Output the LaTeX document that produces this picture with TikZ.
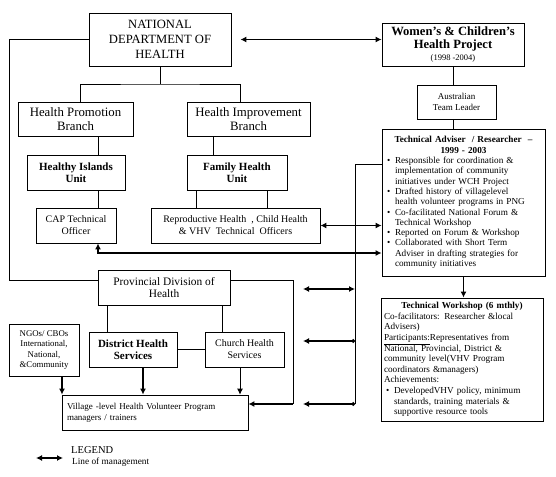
\documentclass[tikz,border=0pt]{standalone}
\usepackage{fontspec}
\setmainfont{Liberation Serif}
\usetikzlibrary{arrows.meta}
\setlength{\parindent}{0pt}
\tikzset{
  box/.style={draw, line width=0.8pt, align=center, inner sep=1pt},
  link/.style={draw, line width=0.8pt},
  mgmt/.style={draw, line width=1.8pt, {Latex[length=6pt,width=6pt]}-{Latex[length=6pt,width=6pt]}},
  mgmtl/.style={draw, line width=1.8pt, {Circle[length=3.5pt]}-{Latex[length=6pt,width=6pt]}},
  downt/.style={draw, line width=1.8pt, -{Latex[length=6pt,width=6pt]}},
  downm/.style={draw, line width=1.2pt, -{Latex[length=6pt,width=6pt]}},
  downn/.style={draw, line width=0.8pt, -{Latex[length=6pt,width=6pt]}},
  ttl/.style={font=\fontsize{12.6}{15}\selectfont},
  ttlb/.style={font=\fontsize{12.6}{13.5}\selectfont\bfseries},
  mid/.style={font=\fontsize{12.8}{14}\selectfont},
  unitb/.style={font=\fontsize{11}{12.5}\selectfont\bfseries},
  prv/.style={font=\fontsize{11.4}{12.5}\selectfont},
  sml/.style={font=\fontsize{10}{12}\selectfont},
  tiny/.style={font=\fontsize{8.8}{10.5}\selectfont},
  txt/.style={font=\fontsize{9.2}{10.3}\selectfont, inner sep=3pt}
}
\newcommand{\bitem}[1]{\par\hangindent=10pt\hangafter=1\makebox[10pt][l]{\hspace{2pt}\textbullet}#1\par}

\begin{document}
\begin{tikzpicture}[x=1pt,y=1pt]
  \useasboundingbox (0,0) rectangle (556,-476);

  % national level and project
  \node[box, ttl, minimum width=142pt, minimum height=53pt] (ndoh) at (160,-39.5) {NATIONAL\\DEPARTMENT OF\\HEALTH};
  \node[box, ttlb, minimum width=142pt, minimum height=43pt] (wch) at (453,-44.5)
    {Women's \& Children's\\Health Project\\[-2pt]{\fontsize{8.5}{9}\selectfont\mdseries (1998 -2004)}};
  \node[box, font=\fontsize{9}{11.5}\selectfont, minimum width=79pt, minimum height=34pt] (atl) at (456.5,-102) {Australian\\Team Leader};
  \node[box, txt, align=left, text width=157pt, minimum width=163pt, minimum height=147pt] (ta) at (463.5,-202.5) {%
    {\centering\bfseries Technical Adviser\ \ / Researcher\ \ --\\1999 - 2003\par}
    \bitem{Responsible for coordination \&\newline implementation of community\newline initiatives under WCH Project}
    \bitem{Drafted history of villagelevel\newline health volunteer programs in PNG}
    \bitem{Co-facilitated National Forum \&\newline Technical Workshop}
    \bitem{Reported on Forum \& Workshop}
    \bitem{Collaborated with Short Term\newline Adviser in drafting strategies for\newline community initiatives}};

  % branches and units
  \node[box, mid, minimum width=115pt, minimum height=34pt] (hpb) at (75.5,-119) {Health Promotion\\Branch};
  \node[box, mid, minimum width=123pt, minimum height=34pt] (hib) at (248.5,-119) {Health Improvement\\Branch};
  \node[box, unitb, minimum width=98pt, minimum height=35pt] (hiu) at (76,-172.5) {Healthy Islands\\Unit};
  \node[box, unitb, minimum width=100pt, minimum height=35pt] (fhu) at (237,-172.5) {Family Health\\Unit};
  \node[box, sml, minimum width=80pt, minimum height=35pt] (cap) at (76,-225.5) {CAP Technical\\Officer};
  \node[box, sml, minimum width=169pt, minimum height=35pt] (rep) at (235.5,-225.5)
    {Reproductive Health\ \ , Child Health\\\& VHV\ \ Technical\ \ Officers};

  % provincial level
  \node[box, prv, minimum width=132pt, minimum height=35pt] (prov) at (164,-287.5) {Provincial Division of\\Health};
  \node[box, unitb, minimum width=88pt, minimum height=35pt] (dhs) at (133,-349.5) {District Health\\Services};
  \node[box, sml, minimum width=79pt, minimum height=35pt] (chs) at (244.5,-349.5) {Church Health\\Services};
  \node[box, tiny, minimum width=70pt, minimum height=52pt] (ngo) at (44,-350) {NGOs/ CBOs\\International,\\National,\\\&Community};
  \node[box, font=\fontsize{9}{11}\selectfont, align=left, text width=176pt, minimum width=186pt, minimum height=35pt] (vhv) at (155,-412.5)
    {Village -level Health Volunteer Program\\managers / trainers};
  \node[box, txt, font=\fontsize{9.2}{10.6}\selectfont, align=left, text width=156pt, minimum width=160pt, minimum height=123pt] (tw) at (462,-359.5) {%
    {\centering\bfseries Technical Workshop (6 mthly)\par}
    Co-facilitators: Researcher \&local\\
    Advisers)\\
    \underline{Participants:}Representatives from\\
    National, Provincial, District \&\\
    community level(VHV Program\\
    coordinators \&managers)\\
    Achievements:
    \bitem{DevelopedVHV policy, minimum\newline standards, training materials \&\newline supportive resource tools}};

  % reporting lines
  \coordinate (lft) at (9,-280);
  \draw[link] (ndoh.west) -| (lft) -- (lft -| prov.west);
  \coordinate (br) at (160,-84);
  \draw[link] (ndoh.south) -- (br);
  \draw[link] ([xshift=4.5pt]hpb.north) |- (br) -| ([xshift=-8.5pt]hib.north);
  \coordinate (xa) at (98,0);
  \draw[link] (hpb.south -| xa) -- (hiu.north -| xa);
  \draw[link] (hiu.south -| xa) -- (cap.north -| xa);
  \coordinate (xb) at (213,0);
  \draw[link] (hib.south -| xb) -- (fhu.north -| xb);
  \coordinate (xc) at (196,0);
  \coordinate (xd) at (267,0);
  \draw[link] (fhu.south -| xc) -- (rep.north -| xc);
  \draw[link] (fhu.south -| xd) -- (rep.north -| xd);
  \draw[link] (wch.south) -- (wch.south |- atl.north);
  \draw[link] (atl.south -| wch.south) -- (ta.north -| wch.south);
  \draw[downt] (ta.south) -- (ta.south |- tw.north);

  % lines of management
  \draw[mgmt] ([xshift=9pt]ndoh.east) -- (wch.west |- ndoh.east);
  \draw[mgmt] (rep.east) -- (rep.east -| ta.west);
  \coordinate (ca) at (98,-253);
  \draw[mgmt] (cap.south -| ca) -- (ca) -- (ca -| ta.west);
  \coordinate (vt) at (355,-164);
  \coordinate (vb) at (355,-404);
  \draw[link] (ta.west |- vt) -- (vt) -- (vb);
  \coordinate (ea) at (303,-289);
  \coordinate (eb) at (303,-341);
  \coordinate (ec) at (303,-404);
  \draw[mgmt] (ea) -- (ea -| vt);
  \draw[mgmtl] (eb -| vt) -- (eb);
  \draw[mgmtl] (vb) -- (ec);

  % provincial connections
  \coordinate (rt) at (293,-280);
  \coordinate (rb) at (293,-404);
  \draw[link] (prov.east |- rt) -- (rt) -- (rb);
  \draw[downt] (rb) -- (rb -| vhv.east);
  \coordinate (xp) at (107,0);
  \coordinate (xq) at (222,0);
  \draw[link] (prov.south -| xp) -- (dhs.north -| xp);
  \draw[link] (prov.south -| xq) -- (chs.north -| xq);
  \draw[link] (dhs.east) -- (chs.west);
  \coordinate (xe) at (62,0);
  \coordinate (xf) at (143,0);
  \coordinate (xg) at (240,0);
  \draw[downm] (ngo.south -| xe) -- (vhv.north -| xe);
  \draw[downt] (dhs.south -| xf) -- (vhv.north -| xf);
  \draw[downn] (chs.south -| xg) -- (vhv.north -| xg);

  % legend
  \coordinate (la) at (36,-458);
  \coordinate (lb) at (63,-458);
  \draw[mgmt] (la) -- (lb);
  \node[anchor=west, font=\fontsize{10.5}{12}\selectfont, inner sep=0pt] (leg) at (71,-450) {LEGEND};
  \node[anchor=west, font=\fontsize{9.3}{10}\selectfont, inner sep=0pt] (legt) at (72,-462) {Line of management};
\end{tikzpicture}
\end{document}
